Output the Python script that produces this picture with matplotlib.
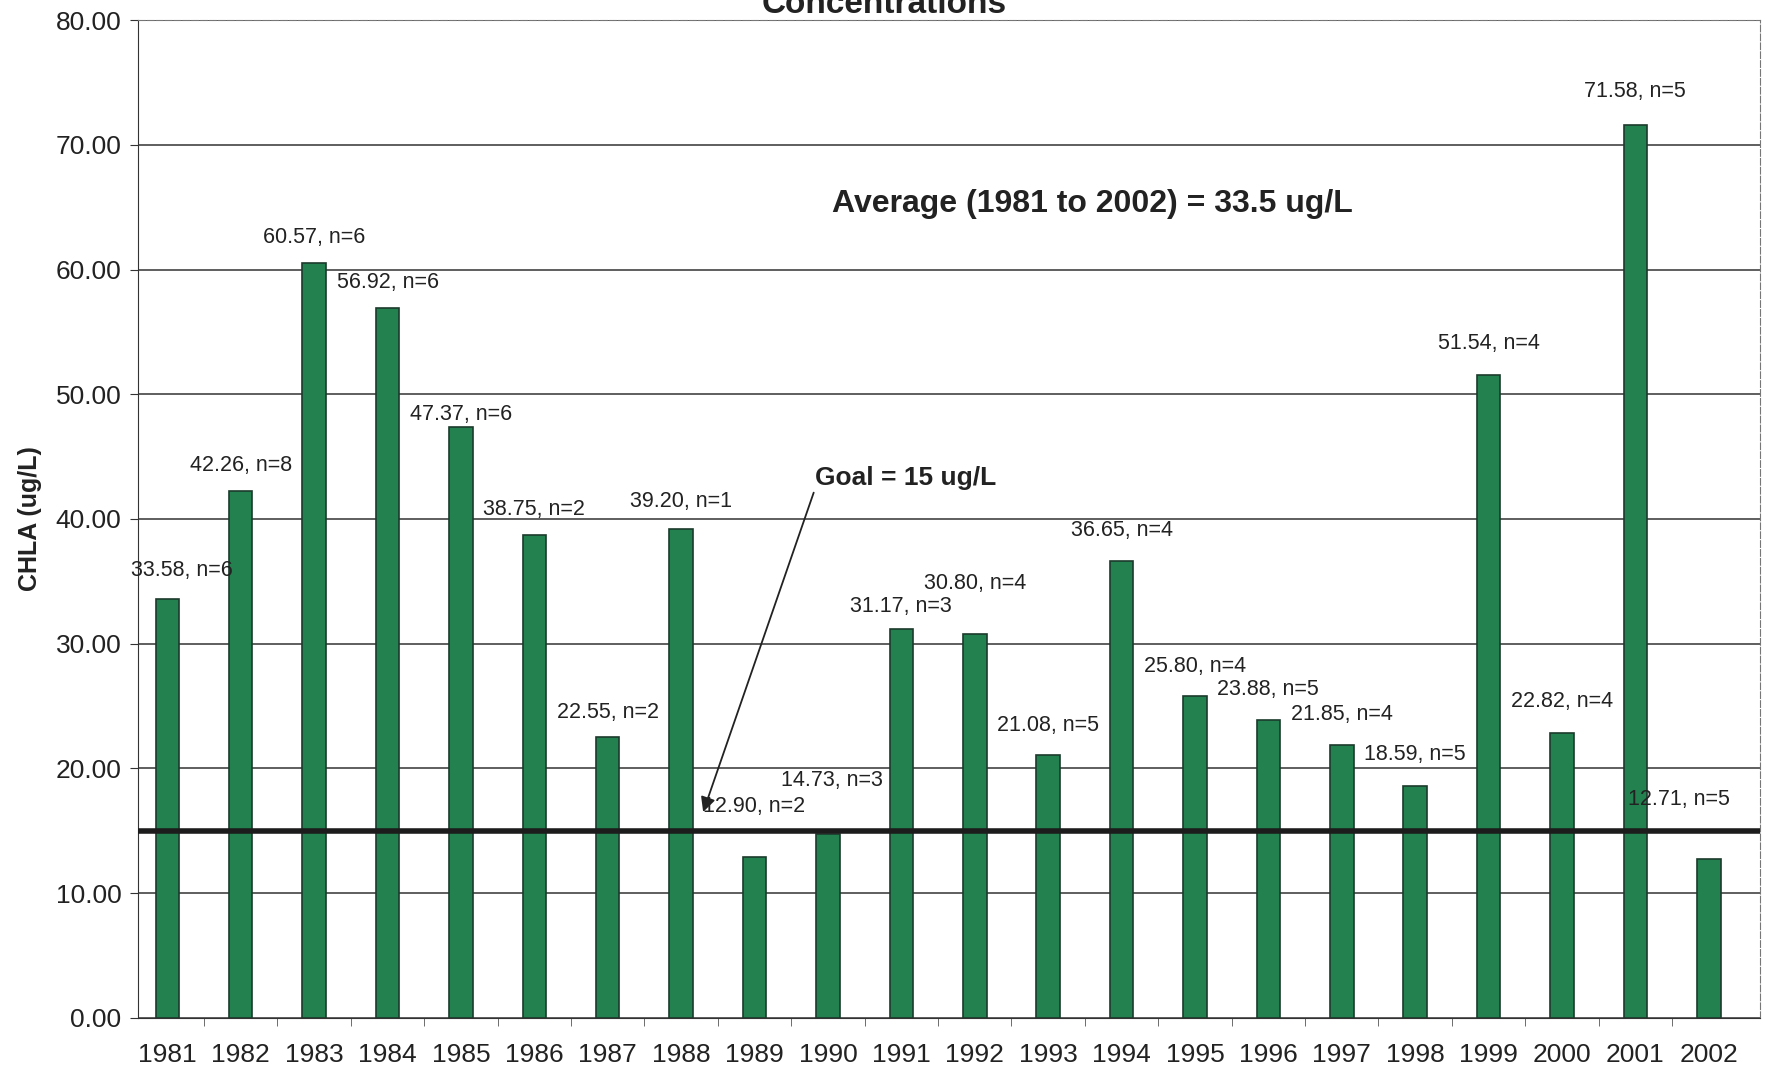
import numpy as np
import matplotlib.pyplot as plt

plt.rcParams['font.family'] = ['Liberation Sans', 'DejaVu Sans']

years = ['1981', '1982', '1983', '1984', '1985', '1986', '1987', '1988', '1989', '1990', '1991',
         '1992', '1993', '1994', '1995', '1996', '1997', '1998', '1999', '2000', '2001', '2002']
chla = [33.58, 42.26, 60.57, 56.92, 47.37, 38.75, 22.55, 39.20, 12.90, 14.73, 31.17,
        30.80, 21.08, 36.65, 25.80, 23.88, 21.85, 18.59, 51.54, 22.82, 71.58, 12.71]
n_samples = [6, 8, 6, 6, 6, 2, 2, 1, 2, 3, 3, 4, 5, 4, 4, 5, 4, 5, 4, 4, 5, 5]

# where the data labels were dragged to in the original (x offset in bars, y in ug/L)
label_dx = [0.2, 0, 0, 0, 0, 0, 0, 0, 0, 0.05, 0, 0, 0, 0, 0, 0, 0, 0, 0, 0, 0, -0.4]
label_y = [35.9, 44.3, 62.6, 59.0, 48.4, 40.8, 24.5, 41.4, 16.9, 19.0, 33.0,
           34.8, 23.4, 39.1, 28.2, 26.3, 24.3, 21.1, 54.1, 25.4, 74.3, 17.5]

goal = 15
average = 33.5

fig = plt.figure(figsize=(17.69, 10.69), dpi=100)
ax = fig.add_axes([0.078, 0.048, 0.917, 0.933])

x = np.arange(len(years))
ax.bar(x, chla, width=0.32, color='#23814f', edgecolor='#1b3b2b', linewidth=1.2, zorder=2)

ax.axhline(goal, color='#1c1c1c', linewidth=4, zorder=3)

for i in range(len(years)):
    ax.text(x[i] + label_dx[i], label_y[i], f'{chla[i]:.2f}, n={n_samples[i]}',
            ha='center', va='center', fontsize=15.5, color='#222222', zorder=4)

ax.text(12.6, 65.3, f'Average (1981 to 2002) = {average} ug/L', ha='center', va='center',
        fontsize=23, fontweight='bold', color='#222222')
ax.annotate(f'Goal = {goal} ug/L', xy=(7.3, 16.5), xytext=(8.83, 43.3),
            ha='left', va='center', fontsize=19, fontweight='bold', color='#222222',
            arrowprops=dict(arrowstyle='-|>', color='#222222', lw=1.3, mutation_scale=22,
                            shrinkA=0, shrinkB=0, relpos=(0, 0.1)))

ax.set_xlim(-0.4, 21.7)
ax.set_ylim(0, 80)
ax.set_yticks(np.arange(0, 81, 10))
ax.set_yticklabels([f'{v:.2f}' for v in np.arange(0, 81, 10)], fontsize=19, color='#222222')
ax.set_xticks(x)
ax.set_xticklabels(years, fontsize=19, color='#222222')
ax.set_xticks(x[:-1] + 0.5, minor=True)
ax.tick_params(axis='x', which='major', length=0, pad=18)
ax.tick_params(axis='x', which='minor', length=6, color='#555555')
ax.tick_params(axis='y', length=6, pad=6, color='#333333')

ax.set_ylabel('CHLA (ug/L)', fontsize=18, fontweight='bold', color='#222222', labelpad=10)

ax.grid(axis='y', color='#333333', linewidth=1.1, zorder=0)
ax.set_axisbelow(True)
for side in ['top', 'right']:
    ax.spines[side].set_color('#777777')
    ax.spines[side].set_linestyle((0, (6, 2)))
ax.spines['left'].set_color('#333333')
ax.spines['bottom'].set_color('#333333')

# the title is cut off at the top edge in the original scan
fig.text(0.5, 0.996, 'Concentrations', ha='center', va='center', fontsize=24,
         fontweight='bold', color='#222222')

fig.savefig('out.png', dpi=100)
